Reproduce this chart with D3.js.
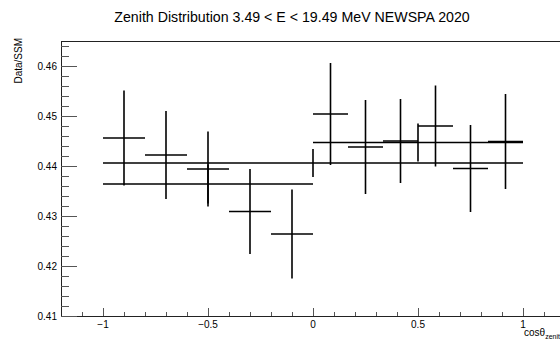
<!DOCTYPE html>
<html>
<head>
<meta charset="utf-8">
<script src="https://cdn.jsdelivr.net/npm/d3@7"></script>
<style>
  html, body { margin: 0; padding: 0; background: #fff; }
  svg { display: block; font-family: "Liberation Sans", Arial, sans-serif; }
</style>
</head>
<body>
<div id="chart"></div>
<script>
// day bins (cos < 0), width 0.2
var dayX = [-0.9, -0.7, -0.5, -0.3, -0.1];
var dayY = [0.4456, 0.4422, 0.4394, 0.4309, 0.4264];
var dayErr = [0.0095, 0.0088, 0.0075, 0.0085, 0.0089];
var dayHalf = 0.1;

// night bins (cos > 0), width 1/6
var nightX = [1/12, 3/12, 5/12, 7/12, 9/12, 11/12];
var nightY = [0.4504, 0.4438, 0.4450, 0.4480, 0.4395, 0.4449];
var nightErr = [0.0102, 0.0094, 0.0084, 0.0081, 0.0087, 0.0095];
var nightHalf = 1/12;

// averages: all, day, night
var avgX = [0, -0.5, 0.5];
var avgY = [0.4406, 0.4364, 0.4447];
var avgXErr = [1, 0.5, 0.5];
var avgYErr = [0.0028, 0.0039, 0.0038];

var xTicks = [-1, -0.5, 0, 0.5, 1];
var yTicks = [0.41, 0.42, 0.43, 0.44, 0.45, 0.46];

var width = 560, height = 343;
var padL = 61, padT = 41, padB = 316, padR = 565;

var svg = d3.select('#chart').append('svg')
  .attr('width', width)
  .attr('height', height);

var x = d3.scaleLinear().domain([-1.2, 1.2]).range([padL, padR]);
var y = d3.scaleLinear().domain([0.41, 0.465]).range([padB, padT]);

// title
svg.append('text')
  .attr('x', 292).attr('y', 22)
  .attr('text-anchor', 'middle')
  .style('font-size', '14.2px')
  .style('fill', '#000')
  .text('Zenith Distribution 3.49 < E < 19.49 MeV NEWSPA 2020');

// frame
svg.append('rect')
  .attr('x', padL + 0.5).attr('y', padT + 0.5)
  .attr('width', padR - padL).attr('height', padB - padT)
  .style('fill', 'none')
  .style('stroke', '#222')
  .style('stroke-width', 1);

// y axis ticks (inward)
var yMinor = d3.range(0.41, 0.4651, 0.002);
svg.selectAll('.ymin').data(yMinor).enter().append('line')
  .attr('x1', padL).attr('x2', padL + 8)
  .attr('y1', function(d){ return Math.round(y(d)) + 0.5; })
  .attr('y2', function(d){ return Math.round(y(d)) + 0.5; })
  .style('stroke', '#555').style('stroke-width', 1);
svg.selectAll('.ymaj').data(yTicks).enter().append('line')
  .attr('x1', padL).attr('x2', padL + 16)
  .attr('y1', function(d){ return Math.round(y(d)) + 0.5; })
  .attr('y2', function(d){ return Math.round(y(d)) + 0.5; })
  .style('stroke', '#555').style('stroke-width', 1);
svg.selectAll('.ylab').data(yTicks).enter().append('text')
  .attr('x', padL - 4)
  .attr('y', function(d){ return y(d) + 3.5; })
  .attr('text-anchor', 'end')
  .style('font-size', '10px')
  .text(function(d){ return d3.format('.2f')(d); });

// x axis ticks (inward)
var xMinor = d3.range(-1.1, 1.21, 0.1);
svg.selectAll('.xmin').data(xMinor).enter().append('line')
  .attr('x1', function(d){ return Math.round(x(d)) + 0.5; })
  .attr('x2', function(d){ return Math.round(x(d)) + 0.5; })
  .attr('y1', padB).attr('y2', padB - 4)
  .style('stroke', '#555').style('stroke-width', 1);
svg.selectAll('.xmaj').data(xTicks).enter().append('line')
  .attr('x1', function(d){ return Math.round(x(d)) + 0.5; })
  .attr('x2', function(d){ return Math.round(x(d)) + 0.5; })
  .attr('y1', padB).attr('y2', padB - 8)
  .style('stroke', '#555').style('stroke-width', 1);
svg.selectAll('.xlab').data(xTicks).enter().append('text')
  .attr('x', function(d){ return x(d); })
  .attr('y', padB + 12)
  .attr('text-anchor', 'middle')
  .style('font-size', '10px')
  .text(function(d){ return d < 0 ? '\u2212' + Math.abs(d) : String(d); });

// axis titles (x title runs past the right edge, as in the original)
var xt = svg.append('text')
  .attr('x', 524).attr('y', 336)
  .style('font-size', '10px');
xt.append('tspan').text('cos\u03b8');
xt.append('tspan').attr('dy', 3).style('font-size', '7px').text('zenith');

svg.append('text')
  .attr('transform', 'translate(22,38) rotate(-90)')
  .attr('text-anchor', 'end')
  .style('font-size', '10px')
  .text('Data/SSM');

// error bar drawing
var marks = svg.append('g')
  .style('stroke', '#000')
  .style('stroke-width', 1.6)
  .style('fill', 'none');

function drawPoints(xs, ys, xerrs, yerrs) {
  xs.forEach(function(cx, i){
    var xe = Array.isArray(xerrs) ? xerrs[i] : xerrs;
    marks.append('line')
      .attr('x1', x(cx - xe)).attr('x2', x(cx + xe))
      .attr('y1', y(ys[i])).attr('y2', y(ys[i]));
    marks.append('line')
      .attr('x1', x(cx)).attr('x2', x(cx))
      .attr('y1', y(ys[i] - yerrs[i])).attr('y2', y(ys[i] + yerrs[i]));
  });
}

drawPoints(avgX, avgY, avgXErr, avgYErr);
drawPoints(dayX, dayY, dayHalf, dayErr);
drawPoints(nightX, nightY, nightHalf, nightErr);
</script>
</body>
</html>
